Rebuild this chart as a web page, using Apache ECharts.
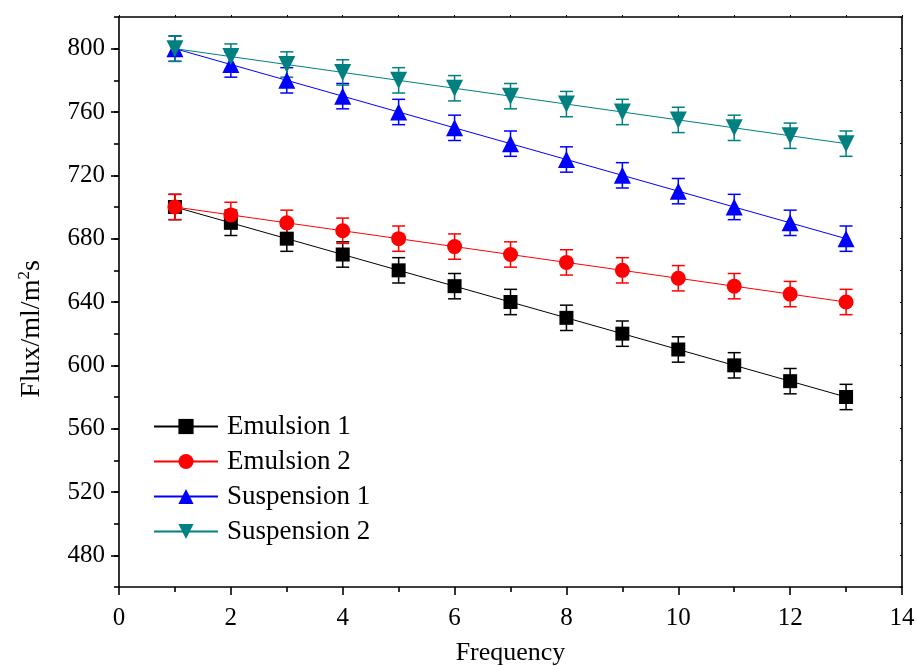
<!DOCTYPE html>
<html>
<head>
<meta charset="utf-8">
<script src="https://cdn.jsdelivr.net/npm/echarts@6/dist/echarts.min.js"></script>
<style>
  html, body { margin: 0; padding: 0; background: #fff; }
  #chart { width: 917px; height: 666px; }
</style>
</head>
<body>
<div id="chart"></div>
<script>
// Measurement points (frequency index) and flux values per sample
const frequency = [1, 2, 3, 4, 5, 6, 7, 8, 9, 10, 11, 12, 13];
const emulsion1 = [700, 690, 680, 670, 660, 650, 640, 630, 620, 610, 600, 590, 580];
const emulsion2 = [700, 695, 690, 685, 680, 675, 670, 665, 660, 655, 650, 645, 640];
const suspension1 = [800, 790, 780, 770, 760, 750, 740, 730, 720, 710, 700, 690, 680];
const suspension2 = [800, 795, 790, 785, 780, 775, 770, 765, 760, 755, 750, 745, 740];
// Half-width of the error bar for every point
const errEmulsion1 = [8, 8, 8, 8, 8, 8, 8, 8, 8, 8, 8, 8, 8];
const errEmulsion2 = [8, 8, 8, 8, 8, 8, 8, 8, 8, 8, 8, 8, 8];
const errSuspension1 = [8, 8, 8, 8, 8, 8, 8, 8, 8, 8, 8, 8, 8];
const errSuspension2 = [8, 8, 8, 8, 8, 8, 8, 8, 8, 8, 8, 8, 8];
// Labelled y ticks
const yTickValues = [480, 520, 560, 600, 640, 680, 720, 760, 800];

const FONT = '"Liberation Serif", "Times New Roman", serif';

const seriesDefs = [
  { name: 'Emulsion 1', values: emulsion1, err: errEmulsion1, color: '#000000', symbol: 'rect', size: 14, rotate: 0 },
  { name: 'Emulsion 2', values: emulsion2, err: errEmulsion2, color: '#ff0000', symbol: 'circle', size: 15, rotate: 0 },
  { name: 'Suspension 1', values: suspension1, err: errSuspension1, color: '#0000ff', symbol: 'triangle', size: 17, rotate: 0 },
  { name: 'Suspension 2', values: suspension2, err: errSuspension2, color: '#008080', symbol: 'triangle', size: 17, rotate: 180 }
];

function errorBarSeries(def) {
  const data = frequency.map((x, i) => [x, def.values[i] - def.err[i], def.values[i] + def.err[i]]);
  return {
    type: 'custom',
    name: def.name + ' error',
    z: 3,
    silent: true,
    data: data,
    renderItem: function (params, api) {
      const x = api.value(0);
      const lo = api.coord([x, api.value(1)]);
      const hi = api.coord([x, api.value(2)]);
      const half = 6.5;
      const style = { stroke: def.color, lineWidth: 1.5, fill: null };
      return {
        type: 'group',
        children: [
          { type: 'line', shape: { x1: lo[0], y1: lo[1], x2: hi[0], y2: hi[1] }, style: style },
          { type: 'line', shape: { x1: hi[0] - half, y1: hi[1], x2: hi[0] + half, y2: hi[1] }, style: style },
          { type: 'line', shape: { x1: lo[0] - half, y1: lo[1], x2: lo[0] + half, y2: lo[1] }, style: style }
        ]
      };
    }
  };
}

function lineSeries(def) {
  return {
    type: 'line',
    name: def.name,
    z: 4,
    data: frequency.map((x, i) => [x, def.values[i]]),
    symbol: def.symbol,
    symbolSize: def.size,
    symbolRotate: def.rotate,
    showAllSymbol: true,
    color: def.color,
    lineStyle: { color: def.color, width: 1 },
    itemStyle: { color: def.color },
    emphasis: { disabled: true },
    animation: false
  };
}

const series = [];
seriesDefs.forEach(d => series.push(errorBarSeries(d)));
seriesDefs.forEach(d => series.push(lineSeries(d)));

const axisLineStyle = { color: '#000', width: 1.6 };

const chart = echarts.init(document.getElementById('chart'), null, { renderer: 'canvas' });
chart.setOption({
  animation: false,
  backgroundColor: '#ffffff',
  grid: { left: 119, right: 15, top: 17, bottom: 79, containLabel: false, outerBoundsMode: 'none' },
  legend: {
    data: seriesDefs.map(d => d.name),
    orient: 'vertical',
    left: 148,
    top: 408,
    itemWidth: 64,
    itemHeight: 19,
    itemGap: 8,
    textStyle: { fontFamily: FONT, fontSize: 27, color: '#000', lineHeight: 27, padding: [0, 0, 0, 4] },
    selectedMode: false
  },
  xAxis: [
    {
      type: 'value',
      position: 'bottom',
      min: 0, max: 14, interval: 2,
      name: 'Frequency',
      nameLocation: 'middle',
      nameGap: 53,
      nameTextStyle: { fontFamily: FONT, fontSize: 26, color: '#000' },
      axisLine: { show: true, onZero: false, lineStyle: axisLineStyle },
      axisTick: { show: true, inside: false, length: 8, lineStyle: { color: '#000', width: 1.6 } },
      minorTick: { show: true, splitNumber: 2, length: 5, lineStyle: { color: '#000', width: 1.6 } },
      axisLabel: { fontFamily: FONT, fontSize: 25, color: '#000', margin: 19 },
      splitLine: { show: false }
    },
    {
      type: 'value',
      position: 'top',
      min: 0, max: 14, interval: 2,
      axisLine: { show: true, onZero: false, lineStyle: axisLineStyle },
      axisTick: { show: true, inside: false, length: 2, lineStyle: { color: '#000', width: 1 } },
      minorTick: { show: true, splitNumber: 2, length: 2, lineStyle: { color: '#000', width: 1 } },
      axisLabel: { show: false },
      splitLine: { show: false }
    }
  ],
  yAxis: [
    {
      type: 'value',
      position: 'left',
      min: 460, max: 820, interval: 20,
      name: 'Flux/ml/m{sup|2}s',
      nameLocation: 'middle',
      nameGap: 72,
      nameTextStyle: {
        fontFamily: FONT, fontSize: 28, color: '#000',
        padding: [0, 54, 0, 0],
        rich: { sup: { fontFamily: FONT, fontSize: 17, color: '#000', verticalAlign: 'bottom', padding: [0, 0, 14, 0] } }
      },
      axisLine: { show: true, onZero: false, lineStyle: axisLineStyle },
      axisTick: { show: true, inside: false, length: 8, customValues: yTickValues, lineStyle: { color: '#000', width: 1.6 } },
      axisLabel: { fontFamily: FONT, fontSize: 25, color: '#000', margin: 14, customValues: yTickValues },
      splitLine: { show: false }
    },
    {
      type: 'value',
      position: 'left',
      min: 460, max: 820, interval: 20,
      axisLine: { show: false },
      axisTick: { show: true, inside: false, length: 5, lineStyle: { color: '#000', width: 1.6 } },
      axisLabel: { show: false },
      splitLine: { show: false }
    },
    {
      type: 'value',
      position: 'right',
      min: 460, max: 820, interval: 20,
      axisLine: { show: true, onZero: false, lineStyle: axisLineStyle },
      axisTick: { show: true, inside: true, length: 2, lineStyle: { color: '#000', width: 1 } },
      axisLabel: { show: false },
      splitLine: { show: false }
    }
  ],
  series: series
});
</script>
</body>
</html>
